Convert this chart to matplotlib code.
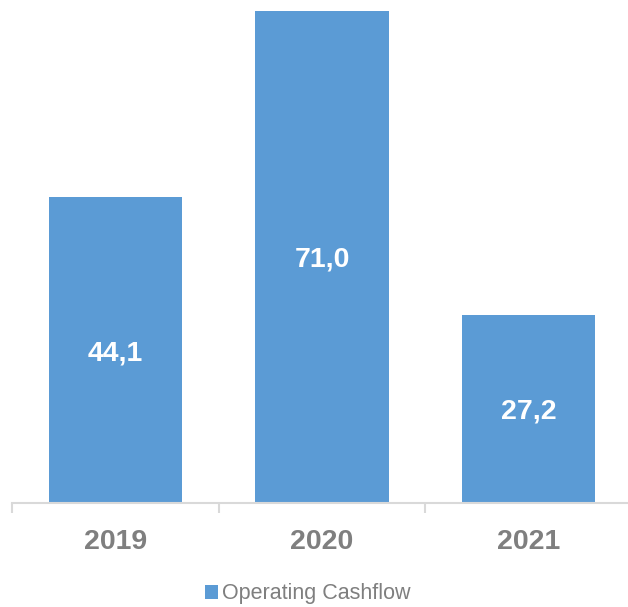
import numpy as np
from matplotlib import pyplot as plt

years = ['2019', '2020', '2021']
cashflow = [44.1, 71.0, 27.2]
value_labels = ['44,1', '71,0', '27,2']

plt.rcParams['font.family'] = ['Liberation Sans', 'DejaVu Sans']

fig = plt.figure(figsize=(6.28, 6.07), dpi=100)
ax = fig.add_axes([12/628, 104/607, 620/628, 492/607])

x = np.arange(len(years))
bars = ax.bar(x, cashflow, width=0.645, color='#5B9BD5', label='Operating Cashflow', zorder=2)

for xi, v, lab in zip(x, cashflow, value_labels):
    ax.text(xi, v/2, lab, ha='center', va='center_baseline', color='white',
            fontsize=20.5, fontweight='bold')

ax.set_xlim(-0.5, 2.5)
ax.set_ylim(0, 71.0)

for s in ['top', 'right', 'left']:
    ax.spines[s].set_visible(False)
ax.spines['bottom'].set_color('#D9D9D9')
ax.spines['bottom'].set_linewidth(1.5)
ax.set_yticks([])

ax.set_xticks(x)
ax.set_xticklabels(years, fontsize=20.5, fontweight='bold', color='#7F7F7F')
ax.tick_params(axis='x', which='major', length=0, pad=19)
ax.set_xticks([-0.5, 0.5, 1.5, 2.5], minor=True)
ax.tick_params(axis='x', which='minor', length=7, width=1.5, color='#D9D9D9', direction='out')

leg = fig.legend(handles=[bars], labels=['Operating Cashflow'], loc='center',
                 bbox_to_anchor=(308/628, 1 - 594/607), frameon=False,
                 fontsize=15.5, handlelength=0.6, handleheight=0.6, handletextpad=0.2)
for t in leg.get_texts():
    t.set_color('#7F7F7F')

fig.savefig('out.png', dpi=100)
